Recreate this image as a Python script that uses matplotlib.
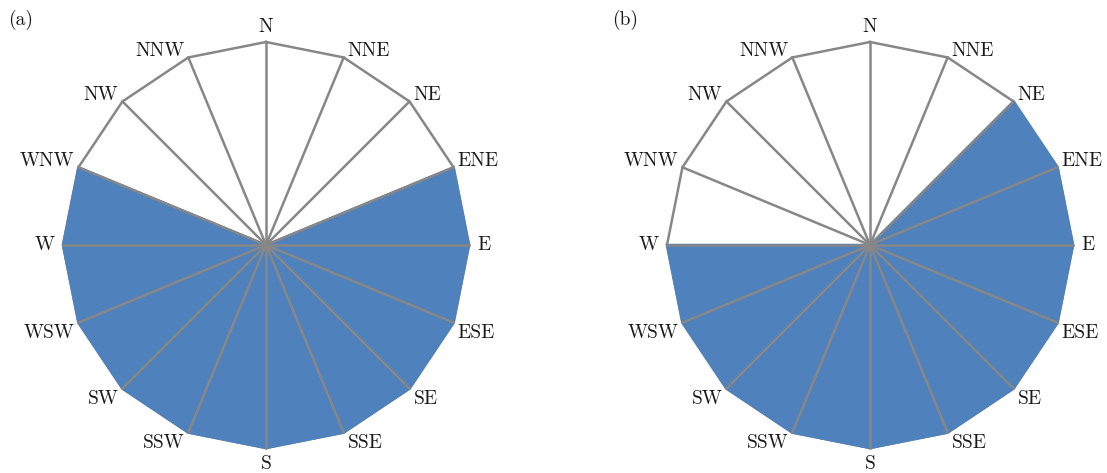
import numpy as np
import matplotlib.pyplot as plt

# 16-point compass, clockwise from north
directions = ['N', 'NNE', 'NE', 'ENE', 'E', 'ESE', 'SE', 'SSE',
              'S', 'SSW', 'SW', 'WSW', 'W', 'WNW', 'NW', 'NNW']
radius = [1] * 16

# which compass points belong to the shaded sector
shaded_a = [0, 0, 0, 1, 1, 1, 1, 1, 1, 1, 1, 1, 1, 1, 0, 0]
shaded_b = [0, 0, 1, 1, 1, 1, 1, 1, 1, 1, 1, 1, 1, 0, 0, 0]

panels = ['(a)', '(b)']

BLUE = '#4F81BD'
GRAY = '#878787'

plt.rcParams['font.family'] = ['cmr10', 'DejaVu Serif']
plt.rcParams['mathtext.fontset'] = 'cm'

W, H = 1107, 473
fig = plt.figure(figsize=(W / 100, H / 100), dpi=100)


def rose(cx, cy, shaded, tag):
    R = 203.0
    half = 240.0
    ax = fig.add_axes([(cx - half) / W, (H - cy - half) / H, 2 * half / W, 2 * half / H])
    lim = half / R
    ax.set_xlim(-lim, lim)
    ax.set_ylim(-lim, lim)
    ax.set_aspect('equal')
    ax.axis('off')

    theta = np.deg2rad(np.arange(16) * 22.5)
    r = np.array(radius, dtype=float)
    x = r * np.sin(theta)
    y = r * np.cos(theta)

    # outer polygon
    ax.plot(np.append(x, x[0]), np.append(y, y[0]), color=GRAY, lw=1.8, zorder=1,
            solid_joinstyle='miter')

    # shaded sector: centre + contiguous run of flagged points
    idx = [i for i, s in enumerate(shaded) if s]
    px = [0] + [x[i] for i in idx]
    py = [0] + [y[i] for i in idx]
    ax.fill(px, py, facecolor=BLUE, edgecolor=BLUE, lw=1.8, zorder=2)

    # spokes
    for xi, yi in zip(x, y):
        ax.plot([0, xi], [0, yi], color=GRAY, lw=1.8, zorder=3)

    # compass labels
    for name, xi, yi in zip(directions, x, y):
        ha = 'left' if xi > 0.05 else ('right' if xi < -0.05 else 'center')
        if yi > 0.05:
            va, dy = 'baseline', 1
        elif yi < -0.05:
            va, dy = 'top', -1
        else:
            va, dy = 'center', 0
        dx = 3 if ha == 'left' else (-3 if ha == 'right' else 0)
        if ha == 'center':
            dy = 7 if va == 'baseline' else -5
        if va == 'center':
            dx = 6 if ha == 'left' else -6
        ax.annotate(name, (xi, yi), xytext=(dx, dy), textcoords='offset points',
                    ha=ha, va=va, fontsize=14, color='#1a1a1a', annotation_clip=False)

    fig.text((cx - 258) / W, 1 - 20 / H, tag, fontsize=14, ha='left', va='center',
             color='#1a1a1a')


rose(266, 245, shaded_a, panels[0])
rose(870, 245, shaded_b, panels[1])

fig.savefig('out.png', dpi=100)
